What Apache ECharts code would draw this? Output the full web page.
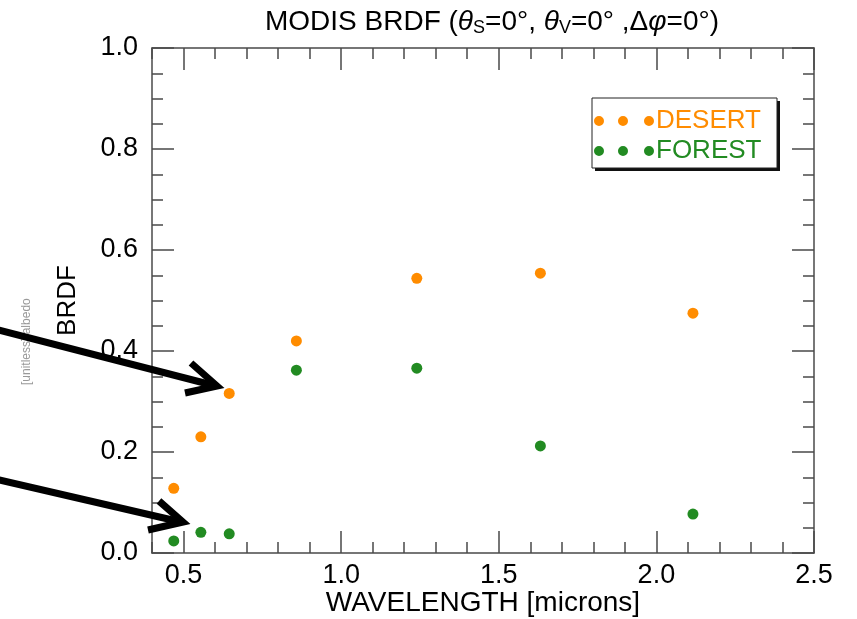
<!DOCTYPE html>
<html>
<head>
<meta charset="utf-8">
<script src="https://cdn.jsdelivr.net/npm/echarts@6/dist/echarts.min.js"></script>
<style>
    html, body { margin: 0; padding: 0; background: #fff; }
    #chart { width: 857px; height: 619px; }
</style>
</head>
<body>
<div id="chart"></div>
<script>
    // MODIS band centres (microns)
    var wavelengths = [0.469, 0.555, 0.645, 0.858, 1.24, 1.632, 2.116];
    var desert = [0.128, 0.230, 0.316, 0.420, 0.544, 0.554, 0.475];
    var forest = [0.024, 0.041, 0.038, 0.362, 0.366, 0.212, 0.077];
    var xMajorTicks = [0.5, 1.0, 1.5, 2.0, 2.5];

    var orange = '#ff8c00';
    var green = '#228b22';
    var axisColor = '#4a4a4a';
    var font = 'Liberation Sans, Arial, sans-serif';

    function pairs(xs, ys) {
        return xs.map(function (x, i) { return [x, ys[i]]; });
    }

    // three dots for the legend symbol
    var dots = 'path://M0,5a5,5 0 1,0 10,0a5,5 0 1,0 -10,0z' +
        'M24,5a5,5 0 1,0 10,0a5,5 0 1,0 -10,0z' +
        'M50,5a5,5 0 1,0 10,0a5,5 0 1,0 -10,0z';

    function xAxis(pos, major, labels) {
        var ax = {
            type: 'value',
            position: pos,
            min: 0.4,
            max: 2.5,
            gridIndex: 0,
            offset: 0,
            axisLine: {show: major, lineStyle: {color: axisColor, width: 1.5}},
            splitLine: {show: false},
            axisTick: {inside: true, length: major ? 22 : 11, lineStyle: {color: axisColor, width: 1.5}},
            axisLabel: {show: false}
        };
        if (major) {
            ax.axisTick.customValues = xMajorTicks;
            if (labels) {
                ax.axisLabel = {
                    show: true, customValues: xMajorTicks, margin: 9,
                    color: '#000', fontSize: 27, fontFamily: font,
                    formatter: function (v) { return v.toFixed(1); }
                };
                ax.name = 'WAVELENGTH [microns]';
                ax.nameLocation = 'middle';
                ax.nameGap = 36;
                ax.nameMoveOverlap = false;
                ax.nameTextStyle = {color: '#000', fontSize: 28, fontFamily: font};
            }
        } else {
            ax.interval = 0.1;
        }
        return ax;
    }

    function yAxis(pos, labels) {
        return {
            type: 'value',
            position: pos,
            min: 0,
            max: 1,
            interval: 0.2,
            name: labels ? 'BRDF' : '',
            nameLocation: 'middle',
            nameGap: 71,
            nameTextStyle: {color: '#000', fontSize: 26, fontFamily: font},
            axisLine: {show: true, lineStyle: {color: axisColor, width: 1.5}},
            splitLine: {show: false},
            axisTick: {inside: true, length: 22, lineStyle: {color: axisColor, width: 1.5}},
            minorTick: {show: true, splitNumber: 4, length: 11, lineStyle: {color: axisColor, width: 1.5}},
            axisLabel: {
                show: labels, margin: 14, color: '#000', fontSize: 27, fontFamily: font,
                formatter: function (v) { return v.toFixed(1); }
            }
        };
    }

    var chart = echarts.init(document.getElementById('chart'));
    chart.setOption({
        backgroundColor: '#fff',
        animation: false,
        title: {
            text: 'MODIS BRDF ({i|θ}{sub|S}=0°, {i|θ}{sub|V}=0° ,Δ{i|φ}=0°)',
            left: 487,
            textAlign: 'center',
            top: 2,
            textStyle: {
                color: '#000', fontSize: 28, fontWeight: 'normal', fontFamily: font,
                rich: {
                    i: {fontStyle: 'italic', fontSize: 28, fontFamily: font, color: '#000'},
                    sub: {fontSize: 18, fontFamily: font, color: '#000', verticalAlign: 'bottom', padding: [12, 0, 0, 0]}
                }
            }
        },
        legend: {
            left: 592,
            top: 98,
            z: 10,
            orient: 'vertical',
            icon: dots,
            itemWidth: 60,
            itemHeight: 10,
            itemGap: 4,
            padding: [10, 10, 4, 2],
            textStyle: {fontSize: 26, fontFamily: font, padding: [0, 0, 0, -3]},
            data: [
                {name: 'DESERT', textStyle: {color: orange}},
                {name: 'FOREST', textStyle: {color: green}}
            ]
        },
        grid: {left: 152, right: 43, top: 48, bottom: 66, outerBoundsMode: 'none', containLabel: false},
        xAxis: [
            xAxis('bottom', true, true),
            xAxis('bottom', false, false),
            xAxis('top', true, false),
            xAxis('top', false, false)
        ],
        yAxis: [
            yAxis('left', true),
            yAxis('right', false)
        ],
        series: [
            {
                name: 'DESERT',
                type: 'scatter',
                symbolSize: 11,
                itemStyle: {color: orange, opacity: 1},
                data: pairs(wavelengths, desert)
            },
            {
                name: 'FOREST',
                type: 'scatter',
                symbolSize: 11,
                itemStyle: {color: green, opacity: 1},
                data: pairs(wavelengths, forest)
            }
        ],
        graphic: [
            // legend box with drop shadow
            {type: 'rect', z: 8, shape: {x: 595, y: 101, width: 185, height: 70}, style: {fill: '#111'}},
            {type: 'rect', z: 9, shape: {x: 592, y: 98, width: 185, height: 70}, style: {fill: '#fff', stroke: '#222', lineWidth: 1}},
            // annotation arrows
            {type: 'polyline', z: 20, shape: {points: [[-5, 329], [216, 386]]}, style: {stroke: '#000', lineWidth: 7, fill: null}},
            {type: 'polyline', z: 20, shape: {points: [[191, 363], [217, 386], [185, 393]]}, style: {stroke: '#000', lineWidth: 7, fill: null}},
            {type: 'polyline', z: 20, shape: {points: [[-5, 479], [181, 522]]}, style: {stroke: '#000', lineWidth: 7, fill: null}},
            {type: 'polyline', z: 20, shape: {points: [[159, 501], [183, 522], [148, 530]]}, style: {stroke: '#000', lineWidth: 7, fill: null}},
            // faint leftover label
            {
                type: 'text', x: 21, y: 385, rotation: Math.PI / 2,
                style: {text: '[unitless] albedo', fill: '#999', fontSize: 12, fontFamily: font}
            }
        ]
    });
</script>
</body>
</html>
